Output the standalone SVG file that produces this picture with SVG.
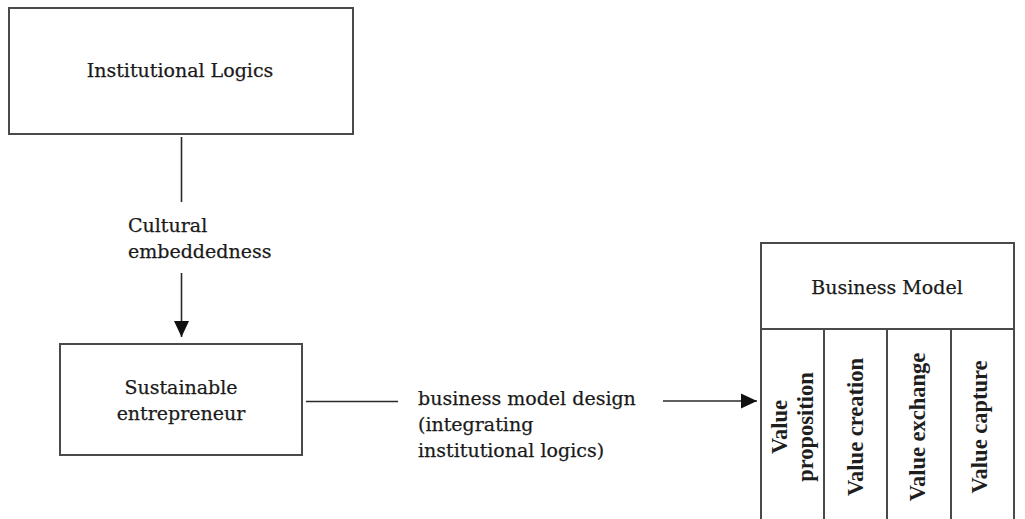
<svg xmlns="http://www.w3.org/2000/svg" width="1025" height="519" viewBox="0 0 1025 519">
  <style>
    .box { fill: #ffffff; stroke: #4a4a4a; stroke-width: 2; }
    .rule { fill: none; stroke: #4a4a4a; stroke-width: 2; }
    .link { fill: none; stroke: #2a2a2a; stroke-width: 1.6; }
    .lbl { font-family: "DejaVu Serif", "Liberation Serif", serif; font-size: 19px; fill: #1a1a1a; stroke: #1a1a1a; stroke-width: 0.25; }
    .mid { text-anchor: middle; }
    .col { font-family: "Liberation Serif", "Times New Roman", serif; font-size: 22.5px; font-weight: bold; fill: #1e1e1e; text-anchor: middle; }
  </style>
  <defs>
    <marker id="head" markerUnits="userSpaceOnUse" markerWidth="16" markerHeight="16" refX="16" refY="8" orient="auto">
      <path d="M0,0.5 L16,8 L0,15.5 Z" fill="#111111"/>
    </marker>
  </defs>
  <rect width="1025" height="519" fill="#ffffff"/>

  <!-- connectors -->
  <g id="connectors">
    <line class="link" x1="181.5" y1="137" x2="181.5" y2="202"/>
    <line class="link" x1="181.5" y1="273" x2="181.5" y2="337" marker-end="url(#head)"/>
    <line class="link" x1="306" y1="401.5" x2="398" y2="401.5"/>
    <line class="link" x1="663" y1="401" x2="757" y2="401" marker-end="url(#head)"/>
    <text class="lbl" x="128" y="232">Cultural</text>
    <text class="lbl" x="128" y="258">embeddedness</text>
    <text class="lbl" x="418" y="405">business model design</text>
    <text class="lbl" x="418" y="431">(integrating</text>
    <text class="lbl" x="418" y="457">institutional logics)</text>
  </g>

  <!-- Institutional Logics -->
  <g id="institutional-logics">
    <rect class="box" x="9" y="8" width="344" height="126"/>
    <text class="lbl mid" x="180" y="77">Institutional Logics</text>
  </g>

  <!-- Sustainable entrepreneur -->
  <g id="sustainable-entrepreneur">
    <rect class="box" x="60" y="344" width="242" height="111"/>
    <text class="lbl mid" x="181" y="394">Sustainable</text>
    <text class="lbl mid" x="181" y="420">entrepreneur</text>
  </g>

  <!-- Business Model: header cell over four open columns -->
  <g id="business-model">
    <path class="rule" d="M761,519 V243 H1014 V519"/>
    <line class="rule" x1="761" y1="329" x2="1014" y2="329"/>
    <line class="rule" x1="824" y1="329" x2="824" y2="519"/>
    <line class="rule" x1="887" y1="329" x2="887" y2="519"/>
    <line class="rule" x1="951" y1="329" x2="951" y2="519"/>
    <text class="lbl mid" x="887" y="294">Business Model</text>
    <text class="col" transform="translate(787,427) rotate(-90)">Value</text>
    <text class="col" transform="translate(813,427) rotate(-90)">proposition</text>
    <text class="col" transform="translate(863,427) rotate(-90)">Value creation</text>
    <text class="col" transform="translate(925,427) rotate(-90)">Value exchange</text>
    <text class="col" transform="translate(987,427) rotate(-90)">Value capture</text>
  </g>
</svg>
